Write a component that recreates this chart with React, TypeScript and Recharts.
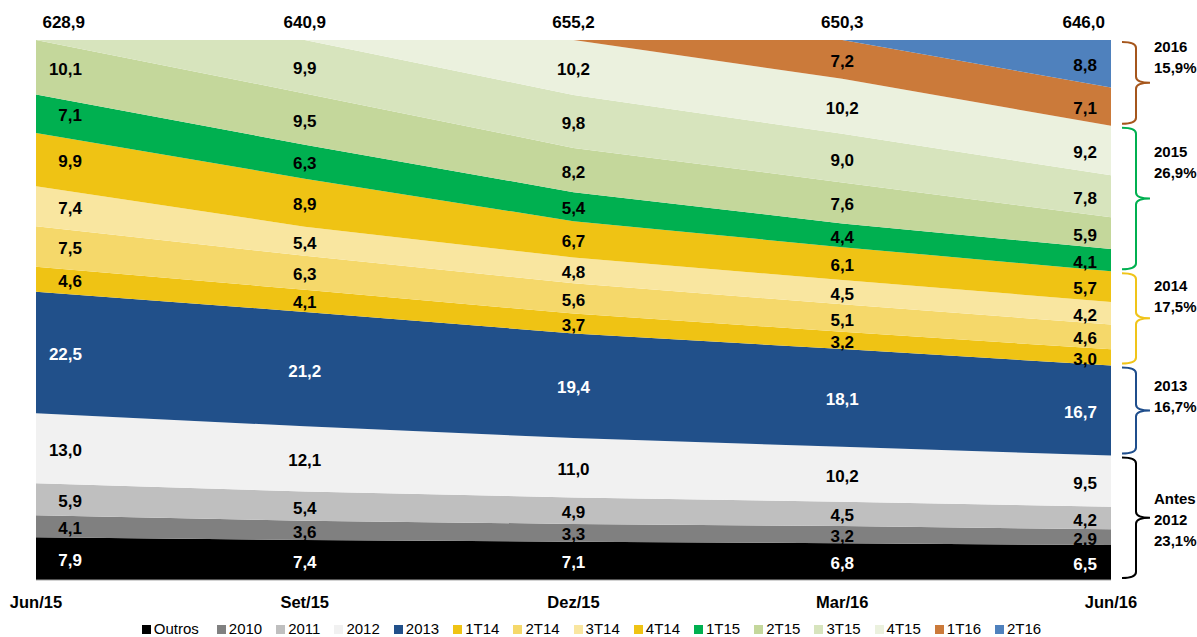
import React from 'react';
import { AreaChart, Area, XAxis, YAxis, Legend, ReferenceDot, ReferenceArea } from 'recharts';

const categories = ['Jun/15', 'Set/15', 'Dez/15', 'Mar/16', 'Jun/16'];
const totals = [628.9, 640.9, 655.2, 650.3, 646.0];

const outros = [7.9, 7.4, 7.1, 6.8, 6.5];
const s2010 = [4.1, 3.6, 3.3, 3.2, 2.9];
const s2011 = [5.9, 5.4, 4.9, 4.5, 4.2];
const s2012 = [13.0, 12.1, 11.0, 10.2, 9.5];
const s2013 = [22.5, 21.2, 19.4, 18.1, 16.7];
const t1T14 = [4.6, 4.1, 3.7, 3.2, 3.0];
const t2T14 = [7.5, 6.3, 5.6, 5.1, 4.6];
const t3T14 = [7.4, 5.4, 4.8, 4.5, 4.2];
const t4T14 = [9.9, 8.9, 6.7, 6.1, 5.7];
const t1T15 = [7.1, 6.3, 5.4, 4.4, 4.1];
const t2T15 = [10.1, 9.5, 8.2, 7.6, 5.9];
const t3T15 = [0, 9.9, 9.8, 9.0, 7.8];
const t4T15 = [0, 0, 10.2, 10.2, 9.2];
const t1T16 = [0, 0, 0, 7.2, 7.1];
const t2T16 = [0, 0, 0, 0, 8.8];

const seriesNames = ['Outros', '2010', '2011', '2012', '2013', '1T14', '2T14', '3T14', '4T14', '1T15', '2T15', '3T15', '4T15', '1T16', '2T16'];
const seriesValues = [outros, s2010, s2011, s2012, s2013, t1T14, t2T14, t3T14, t4T14, t1T15, t2T15, t3T15, t4T15, t1T16, t2T16];

// groups shown with braces on the right (series indexes, bottom to top)
const groupLines = [['Antes', '2012', '23,1%'], ['2013', '16,7%'], ['2014', '17,5%'], ['2015', '26,9%'], ['2016', '15,9%']];
const groupMembers = [[0, 1, 2, 3], [4], [5, 6, 7, 8], [9, 10, 11, 12], [13, 14]];

// ---- styles ----
const FONT = '"Liberation Sans", Arial, Helvetica, sans-serif';
const seriesColors = ['#000000', '#808080', '#bfbfbf', '#f1f1f1', '#21508a', '#efc314', '#f5d86a', '#f9e6a0', '#efc314', '#00b050', '#c4d79b', '#d7e4bd', '#ebf1de', '#cb7a3a', '#4f81bd'];
const labelColors = ['#ffffff', '#000', '#000', '#000', '#ffffff', '#000', '#000', '#000', '#000', '#000', '#000', '#000', '#000', '#000', '#000'];
const groupColors = ['#000000', '#1f4e8c', '#f0c419', '#00b050', '#a5561c'];
const groupTextOffset = [2, -14, -22, -36, -25];

const fmt = (v: number) => v.toFixed(1).replace('.', ',');

const data = categories.map((c, i) => {
  const row: any = { cat: c };
  seriesNames.forEach((n, j) => {
    row[n] = seriesValues[j][i];
  });
  return row;
});

const sums = categories.map((_, i) => seriesValues.reduce((a, s) => a + s[i], 0));

type Lbl = { cat: string; i: number; y: number; text: string; color: string };
const labels: Lbl[] = [];
categories.forEach((c, i) => {
  let cum = 0;
  seriesValues.forEach((s, j) => {
    const v = s[i];
    if (v > 0) {
      labels.push({ cat: c, i, y: (cum + v / 2) / sums[i], text: fmt(v), color: labelColors[j] });
    }
    cum += v;
  });
});

const last = categories.length - 1;
const groupBounds = groupMembers.map((m) => {
  let lo = 0;
  for (let j = 0; j < m[0]; j++) lo += seriesValues[j][last];
  let hi = lo;
  m.forEach((j) => (hi += seriesValues[j][last]));
  return [lo / sums[last], hi / sums[last]];
});

const labelShape = (l: Lbl) => (p: any) => {
  const n = categories.length;
  let anchor: any = 'middle';
  let dx = 0;
  if (l.i === 0) {
    anchor = 'end';
    dx = 46;
  } else if (l.i === n - 1) {
    anchor = 'end';
    dx = -14;
  }
  return (
    <text x={p.cx + dx} y={p.cy + 7.5} textAnchor={anchor} fill={l.color} fontSize={17} fontWeight={700} fontFamily={FONT}>
      {l.text}
    </text>
  );
};

const totalShape = (i: number) => (p: any) => {
  const n = categories.length;
  let anchor: any = 'middle';
  let dx = 0;
  if (i === 0) {
    anchor = 'end';
    dx = 49;
  } else if (i === n - 1) {
    anchor = 'end';
    dx = -6;
  }
  return (
    <text x={p.cx + dx} y={p.cy - 12} textAnchor={anchor} fill="#000" fontSize={17} fontWeight={700} fontFamily={FONT}>
      {fmt(totals[i])}
    </text>
  );
};

const braceShape = (g: number) => (p: any) => {
  const xr = p.x + p.width;
  const yTop = p.y + 2;
  const yBot = p.y + p.height - 2;
  const mid = (yTop + yBot) / 2;
  const x0 = xr + 11;
  const x1 = xr + 25;
  const xt = xr + 39;
  const r = 6;
  const d = `M ${x0} ${yTop} Q ${x1} ${yTop} ${x1} ${yTop + r} L ${x1} ${mid - r} Q ${x1} ${mid} ${xt} ${mid} Q ${x1} ${mid} ${x1} ${mid + r} L ${x1} ${yBot - r} Q ${x1} ${yBot} ${x0} ${yBot}`;
  const lines = groupLines[g];
  const lh = 21;
  const center = mid + groupTextOffset[g];
  const firstBase = center - ((lines.length - 1) * lh) / 2 + 5;
  return (
    <g>
      <path d={d} fill="none" stroke={groupColors[g]} strokeWidth={2} />
      {lines.map((t, k) => (
        <text key={k} x={xr + 43} y={firstBase + k * lh} fill="#000" fontSize={15} fontWeight={700} fontFamily={FONT}>
          {t}
        </text>
      ))}
    </g>
  );
};

const renderLegend = () => (
  <div
    style={{
      height: 27,
      boxSizing: 'border-box',
      paddingTop: 11,
      display: 'flex',
      justifyContent: 'center',
      fontFamily: FONT,
      fontSize: 15,
      lineHeight: '16px',
      color: '#000',
    }}
  >
    {seriesNames.map((n, j) => (
      <span key={n} style={{ display: 'inline-flex', alignItems: 'center', marginRight: j === 0 ? 18 : 14 }}>
        <span style={{ display: 'inline-block', width: 9, height: 9, background: seriesColors[j], marginRight: 3 }} />
        {n}
      </span>
    ))}
  </div>
);

export default function App() {
  return (
    <div style={{ position: 'absolute', left: 0, top: 0, width: 1197, height: 637, background: '#fff' }}>
      <AreaChart width={1197} height={637} data={data} stackOffset="expand" margin={{ top: 40, right: 86, left: 36, bottom: 0 }}>
        <XAxis
          dataKey="cat"
          interval={0}
          height={30}
          tickLine={false}
          tickMargin={10}
          axisLine={{ stroke: '#a6a6a6', strokeWidth: 1 }}
          tick={{ fill: '#000', fontSize: 16.5, fontWeight: 700, fontFamily: FONT }}
        />
        <YAxis hide domain={[0, 1]} />
        {seriesNames.map((n, j) => (
          <Area
            key={n}
            dataKey={n}
            stackId="1"
            type="linear"
            fill={seriesColors[j]}
            fillOpacity={1}
            stroke="none"
            dot={false}
            activeDot={false}
            isAnimationActive={false}
          />
        ))}
        {labels.map((l, k) => (
          <ReferenceDot key={'l' + k} x={l.cat} y={l.y} r={0} ifOverflow="visible" shape={labelShape(l)} />
        ))}
        {categories.map((c, i) => (
          <ReferenceDot key={'t' + i} x={c} y={1} r={0} ifOverflow="visible" shape={totalShape(i)} />
        ))}
        {groupBounds.map((b, g) => (
          <ReferenceArea key={'g' + g} y1={b[0]} y2={b[1]} ifOverflow="visible" shape={braceShape(g)} />
        ))}
        <Legend verticalAlign="bottom" content={renderLegend} wrapperStyle={{ left: 0, width: 1197 }} />
      </AreaChart>
    </div>
  );
}
